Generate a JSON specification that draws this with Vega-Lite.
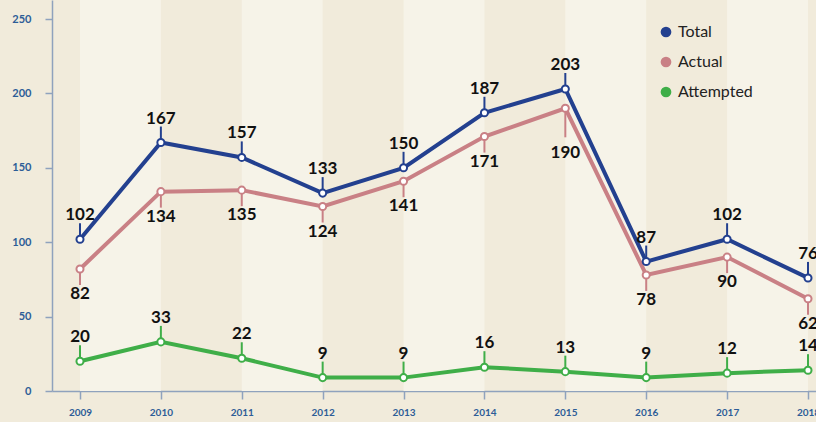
{
  "$schema": "https://vega.github.io/schema/vega-lite/v6.json",
  "width": 764,
  "height": 391,
  "autosize": {"type": "none"},
  "padding": {"left": 52, "top": 0, "right": 0, "bottom": 31},
  "background": "#f1ebdb",
  "config": {
    "view": {"stroke": null},
    "font": "Lato",
    "axis": {"grid": false, "title": null, "domainColor": "#8fa2bd", "domainWidth": 1.5, "tickColor": "#8fa2bd", "tickWidth": 1.5, "labelColor": "#2d5d97", "labelFont": "Lato", "labelFontWeight": "bold"},
    "legend": {"symbolType": "circle", "symbolSize": 115, "symbolOpacity": 1, "symbolStrokeWidth": 0, "labelFont": "Lato", "labelFontSize": 16, "labelColor": "#222222", "labelOffset": 4, "rowPadding": 14, "padding": 0}
  },
  "datasets": {
    "bands": [
      {"start": 2009, "end": 2010},
      {"start": 2011, "end": 2012},
      {"start": 2013, "end": 2014},
      {"start": 2015, "end": 2016},
      {"start": 2017, "end": 2018}
    ],
    "main": [
      {"year": 2009, "series": "Total", "value": 102},
      {"year": 2010, "series": "Total", "value": 167},
      {"year": 2011, "series": "Total", "value": 157},
      {"year": 2012, "series": "Total", "value": 133},
      {"year": 2013, "series": "Total", "value": 150},
      {"year": 2014, "series": "Total", "value": 187},
      {"year": 2015, "series": "Total", "value": 203},
      {"year": 2016, "series": "Total", "value": 87},
      {"year": 2017, "series": "Total", "value": 102},
      {"year": 2018, "series": "Total", "value": 76},
      {"year": 2009, "series": "Actual", "value": 82},
      {"year": 2010, "series": "Actual", "value": 134},
      {"year": 2011, "series": "Actual", "value": 135},
      {"year": 2012, "series": "Actual", "value": 124},
      {"year": 2013, "series": "Actual", "value": 141},
      {"year": 2014, "series": "Actual", "value": 171},
      {"year": 2015, "series": "Actual", "value": 190},
      {"year": 2016, "series": "Actual", "value": 78},
      {"year": 2017, "series": "Actual", "value": 90},
      {"year": 2018, "series": "Actual", "value": 62},
      {"year": 2009, "series": "Attempted", "value": 20},
      {"year": 2010, "series": "Attempted", "value": 33},
      {"year": 2011, "series": "Attempted", "value": 22},
      {"year": 2012, "series": "Attempted", "value": 9},
      {"year": 2013, "series": "Attempted", "value": 9},
      {"year": 2014, "series": "Attempted", "value": 16},
      {"year": 2015, "series": "Attempted", "value": 13},
      {"year": 2016, "series": "Attempted", "value": 9},
      {"year": 2017, "series": "Attempted", "value": 12},
      {"year": 2018, "series": "Attempted", "value": 14}
    ]
  },
  "layer": [
    {
      "data": {"name": "bands"},
      "mark": {"type": "rect", "color": "#f6f3e8"},
      "encoding": {
        "x": {"field": "start", "type": "quantitative", "scale": {"domain": [2008.654, 2018.099], "nice": false, "zero": false}, "axis": {"values": [2009, 2010, 2011, 2012, 2013, 2014, 2015, 2016, 2017, 2018], "format": "d", "labelFontSize": 10, "tickSize": 8, "labelPadding": 8, "labelFlush": false}},
        "x2": {"field": "end"},
        "y": {"datum": 0, "type": "quantitative", "scale": {"domain": [0, 262.8], "nice": false}, "axis": {"values": [0, 50, 100, 150, 200, 250], "labelFontSize": 11, "tickSize": 7, "labelPadding": 14}},
        "y2": {"datum": 262.8}
      }
    },
    {
      "data": {"name": "main"},
      "layer": [
        {
          "transform": [{"filter": "datum.series !== 'Actual'"}],
          "mark": {"type": "rule", "y2Offset": -16, "strokeWidth": 2},
          "encoding": {
            "x": {"field": "year", "type": "quantitative"},
            "y": {"field": "value", "type": "quantitative"},
            "y2": {"field": "value"},
            "color": {"field": "series", "type": "nominal"}
          }
        },
        {
          "transform": [{"filter": "datum.series === 'Actual' && datum.year !== 2015"}],
          "mark": {"type": "rule", "y2Offset": 16, "strokeWidth": 2},
          "encoding": {
            "x": {"field": "year", "type": "quantitative"},
            "y": {"field": "value", "type": "quantitative"},
            "y2": {"field": "value"},
            "color": {"field": "series", "type": "nominal"}
          }
        },
        {
          "transform": [{"filter": "datum.series === 'Actual' && datum.year === 2015"}],
          "mark": {"type": "rule", "y2Offset": 29, "strokeWidth": 2},
          "encoding": {
            "x": {"field": "year", "type": "quantitative"},
            "y": {"field": "value", "type": "quantitative"},
            "y2": {"field": "value"},
            "color": {"field": "series", "type": "nominal"}
          }
        },
        {
          "mark": {"type": "line", "strokeWidth": 4},
          "encoding": {
            "x": {"field": "year", "type": "quantitative"},
            "y": {"field": "value", "type": "quantitative"},
            "color": {"field": "series", "type": "nominal", "scale": {"domain": ["Total", "Actual", "Attempted"], "range": ["#23408f", "#c98085", "#3fae48"]}, "legend": {"title": null, "orient": "none", "legendX": 606, "legendY": 24, "encode": {"symbols": {"update": {"fill": {"scale": "color", "field": "value"}, "strokeWidth": {"value": 0}, "opacity": {"value": 1}}}}}}
          }
        },
        {
          "mark": {"type": "point", "shape": "circle", "filled": false, "fill": "white", "fillOpacity": 1, "strokeWidth": 2, "size": 50, "opacity": 1},
          "encoding": {
            "x": {"field": "year", "type": "quantitative"},
            "y": {"field": "value", "type": "quantitative"},
            "color": {"field": "series", "type": "nominal"}
          }
        },
        {
          "transform": [{"filter": "datum.series !== 'Actual'"}],
          "mark": {"type": "text", "baseline": "alphabetic", "dy": -19, "font": "Lato", "fontWeight": "bold", "fontSize": 17, "color": "#111111"},
          "encoding": {
            "x": {"field": "year", "type": "quantitative"},
            "y": {"field": "value", "type": "quantitative"},
            "text": {"field": "value", "type": "quantitative"}
          }
        },
        {
          "transform": [{"filter": "datum.series === 'Actual' && datum.year !== 2015"}],
          "mark": {"type": "text", "baseline": "alphabetic", "dy": 30, "font": "Lato", "fontWeight": "bold", "fontSize": 17, "color": "#111111"},
          "encoding": {
            "x": {"field": "year", "type": "quantitative"},
            "y": {"field": "value", "type": "quantitative"},
            "text": {"field": "value", "type": "quantitative"}
          }
        },
        {
          "transform": [{"filter": "datum.series === 'Actual' && datum.year === 2015"}],
          "mark": {"type": "text", "baseline": "alphabetic", "dy": 50, "font": "Lato", "fontWeight": "bold", "fontSize": 17, "color": "#111111"},
          "encoding": {
            "x": {"field": "year", "type": "quantitative"},
            "y": {"field": "value", "type": "quantitative"},
            "text": {"field": "value", "type": "quantitative"}
          }
        }
      ]
    }
  ]
}
